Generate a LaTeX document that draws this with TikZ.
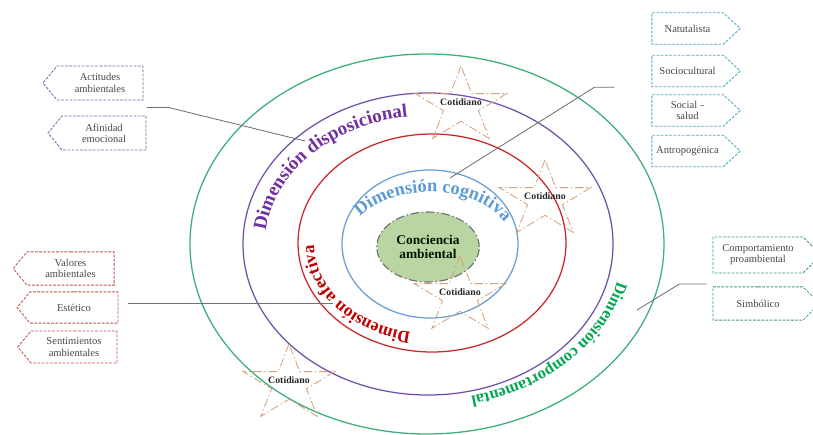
\documentclass[tikz,border=0pt]{standalone}
\usepackage{fontspec}
\setmainfont{Liberation Serif}
\usetikzlibrary{calc,shapes.symbols,shapes.geometric,decorations.text}

\begin{document}
\begin{tikzpicture}[x=0.025cm,y=0.025cm,
        caja/.style={signal, signal from=nowhere, draw, dash pattern=on 2pt off 1pt, line width=0.6pt,
            inner xsep=0pt, inner ysep=1pt, align=center, text=texto, font=\fontsize{7.5}{8}\selectfont},
        conector/.style={draw=gris, line width=0.6pt},
        estrella/.style={draw=cestrella, line width=0.6pt, dash pattern=on 6pt off 2pt on 1pt off 2pt},
        cotidiano/.style={font=\bfseries\fontsize{7}{8}\selectfont, text=black!85, inner sep=1pt}]
        %colores
        \definecolor{cverde}{HTML}{3CAE78}
        \definecolor{cmorado}{HTML}{7252A8}
        \definecolor{crojo}{HTML}{C8282D}
        \definecolor{cazul}{HTML}{6A9FD4}
        \definecolor{tverde}{HTML}{00A651}
        \definecolor{tmorado}{HTML}{7030A0}
        \definecolor{trojo}{HTML}{C00000}
        \definecolor{tazul}{HTML}{5B9BD5}
        \definecolor{bmorado}{HTML}{8064A2}
        \definecolor{brojo}{HTML}{C0504D}
        \definecolor{bazul}{HTML}{4BACC6}
        \definecolor{bverde}{HTML}{3D9F6D}
        \definecolor{cestrella}{HTML}{D8A07A}
        \definecolor{fconciencia}{HTML}{B8D5A2}
        \definecolor{texto}{HTML}{474747}
        \definecolor{gris}{HTML}{707070}
        \useasboundingbox (0,0) rectangle (813,434);

        % Circulos de las dimensiones
        \draw[cverde, line width=0.9pt] (427,190) ellipse [x radius=237, y radius=190];
        \draw[cmorado, line width=0.9pt] (428,190) ellipse [x radius=185, y radius=151];
        \draw[crojo, line width=0.9pt] (432,191) ellipse [x radius=134, y radius=109];
        \draw[cazul, line width=0.9pt] (430,190) ellipse [x radius=88, y radius=74];
        \node[ellipse, fill=fconciencia, draw=gris, dash pattern=on 6pt off 2pt on 1pt off 2pt, line width=0.8pt,
            minimum width=2.2cm, minimum height=1.75cm, align=center, text=black!80!green!40!black,
            font=\bfseries\fontsize{9.5}{10.5}\selectfont] (conciencia) at (428,187) {Conciencia\\ambiental};

        % Textos curvos
        \path[shift={(428,190)}, decorate, decoration={text along path, text align=center,
            text={|\fontsize{13.5}{13}\selectfont\bfseries\color{tmorado}|Dimensión disposicional}}]
            (178:163 and 128) arc[start angle=178, end angle=94, x radius=163, y radius=128];
        \path[shift={(430,190)}, decorate, decoration={text along path, text align=center,
            text={|\fontsize{13}{13}\selectfont\bfseries\color{tazul}|Dimensión cognitiva}}]
            (160:82 and 52) arc[start angle=160, end angle=13, x radius=82, y radius=52];
        \path[shift={(432,190)}, decorate, decoration={text along path, text align=center,
            text={|\fontsize{12.4}{12}\selectfont\bfseries\color{trojo}|Dimensión afectiva}}]
            (264:118 and 90) arc[start angle=264, end angle=175, x radius=118, y radius=90];
        \path[shift={(427,190)}, decorate, decoration={text along path, text align=center,
            text={|\fontsize{11.7}{12}\selectfont\bfseries\color{tverde}|Dimensión comportamental}}]
            (-9:196 and 156) arc[start angle=-9, end angle=-81, x radius=196, y radius=156];

        % Estrellas cotidiano
        \foreach \nombre/\cx/\cy in {cot1/461/328, cot2/545/234, cot3/460/138, cot4/289/50}{
            \draw[estrella] (\cx,\cy) +(90:48 and 40) -- +(126:18.3 and 15.3) -- +(162:48 and 40)
                -- +(198:18.3 and 15.3) -- +(234:48 and 40) -- +(270:18.3 and 15.3) -- +(306:48 and 40)
                -- +(342:18.3 and 15.3) -- +(18:48 and 40) -- +(54:18.3 and 15.3) -- cycle;
            \node[cotidiano] (\nombre) at ([yshift=3pt]\cx,\cy) {Cotidiano};
        }

        % Cajas dimension disposicional
        \node[caja, signal to=west, draw=bmorado, text width=2.15cm, minimum height=0.85cm, signal pointer angle=101]
            (actitudes) at (100,351) {Actitudes\\ambientales};
        \node[caja, signal to=west, draw=bmorado, text width=2.1cm, minimum height=0.85cm, signal pointer angle=101]
            (afinidad) at (104,301) {Afinidad\\emocional};
        % Cajas dimension afectiva
        \node[caja, signal to=west, draw=brojo, text width=2.18cm, minimum height=0.83cm, signal pointer angle=101]
            (valores) at (70.5,165.5) {Valores\\ambientales};
        \node[caja, signal to=west, draw=brojo, text width=2.2cm, minimum height=0.78cm, signal pointer angle=101]
            (estetico) at (74,126.5) {Estético};
        \node[caja, signal to=west, draw=brojo, text width=2.15cm, minimum height=0.8cm, signal pointer angle=101]
            (sentimientos) at (74,87) {Sentimientos\\ambientales};
        % Cajas dimension cognitiva
        \foreach \nombre/\y/\texto in {naturalista/405.5/Natutalista, sociocultural/363/Sociocultural,
            social/323.5/{Social -\\salud}, antropogenica/283/Antropogénica}
            \node[caja, signal to=east, draw=bazul, text width=1.78cm, minimum height=0.79cm, signal pointer angle=85]
                (\nombre) at (687.5,\y) {\texto};
        % Cajas dimension comportamental
        \node[caja, signal to=east, draw=bverde, text width=2.25cm, minimum height=0.9cm]
            (comportamiento) at (758,179) {Comportamiento\\proambiental};
        \node[caja, signal to=east, draw=bverde, text width=2.25cm, minimum height=0.83cm]
            (simbolico) at (758,130.5) {Simbólico};

        % Conectores
        \coordinate (pDisp) at (305,293);
        \coordinate (pCogn) at (450,256);
        \coordinate (pAfec) at (333,130.5);
        \coordinate (pComp) at (637,124);
        \draw[conector] ($(actitudes.south east)!.5!(afinidad.north east)+(2,0)$) -- ++(22,0) -- (pDisp);
        \draw[conector] ($(sociocultural.south west)+(-37,0)$) -- ++(-20,0) -- (pCogn);
        \draw[conector] ($(estetico.east)+(10,4)$) -- (pAfec);
        \draw[conector] ($(comportamiento.south west)!.5!(simbolico.north west)+(-6,-4)$) -- ++(-27,0) -- (pComp);
    \end{tikzpicture}
\end{document}
